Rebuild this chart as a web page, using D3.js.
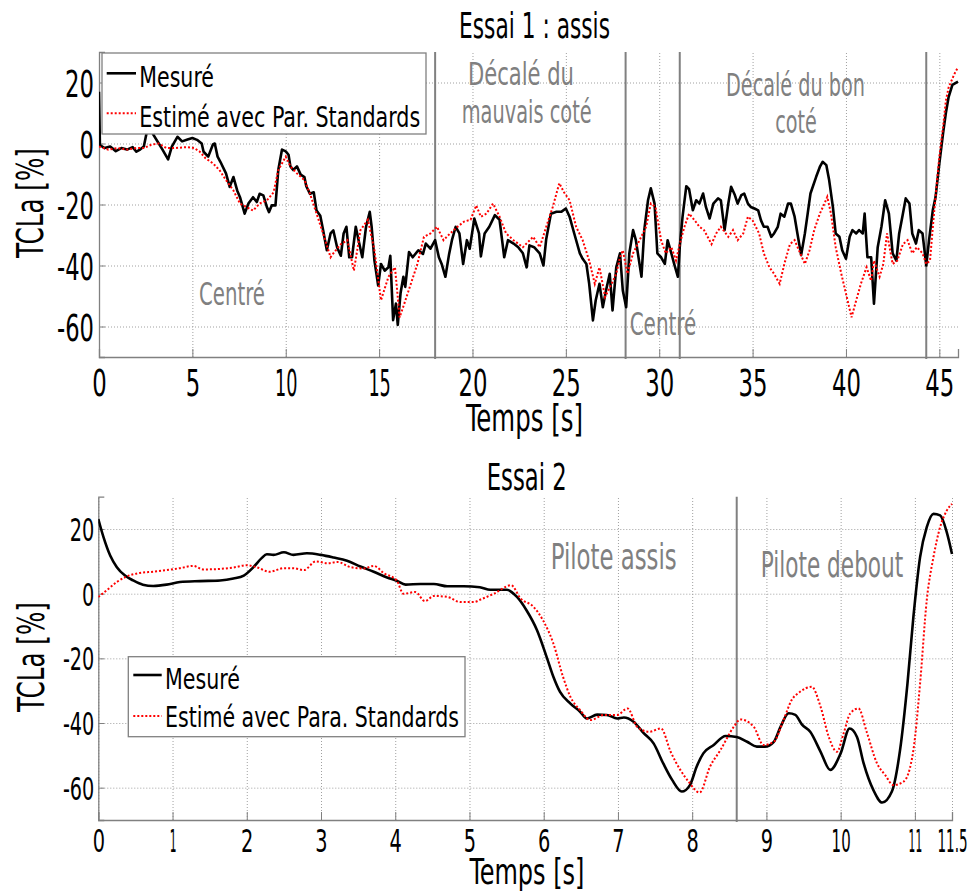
<!DOCTYPE html>
<html><head><meta charset="utf-8">
<script src="https://cdn.jsdelivr.net/npm/d3@7"></script>
<style>body{margin:0;background:#fff}svg{display:block}</style>
</head><body><svg id="c" width="968" height="892"></svg>
<script>
// ---------------- DATA ----------------
const essai1MesureT = [0,0.05,0.3,0.6,0.9,1.2,1.5,1.8,2.0,2.2,2.4,2.6,2.75,2.9,3.2,3.4,3.7,3.9,4.2,4.45,4.7,5.0,5.25,5.5,5.6,5.85,6.1,6.2,6.35,6.5,6.8,7.0,7.2,7.4,7.55,7.8,8.0,8.25,8.45,8.6,8.8,9.0,9.1,9.25,9.45,9.6,9.8,10.0,10.15,10.25,10.4,10.6,10.8,11.0,11.1,11.3,11.5,11.65,11.85,12.0,12.2,12.4,12.55,12.75,12.95,13.1,13.25,13.4,13.55,13.75,13.9,14.1,14.3,14.5,14.6,14.75,14.95,15.1,15.3,15.5,15.6,15.75,15.9,16.0,16.15,16.3,16.4,16.6,16.8,17.1,17.35,17.5,17.75,18.0,18.2,18.35,18.55,18.75,18.9,19.1,19.3,19.5,19.7,19.85,20.1,20.35,20.45,20.65,20.9,21.2,21.45,21.7,21.9,22.2,22.45,22.7,22.9,23.05,23.3,23.6,23.8,23.95,24.2,24.5,24.75,25.0,25.2,25.45,25.75,25.9,26.1,26.25,26.45,26.6,26.8,26.98,27.15,27.35,27.5,27.7,27.9,28.05,28.23,28.4,28.6,28.75,29.05,29.2,29.4,29.55,29.75,29.9,30.1,30.3,30.45,30.65,30.8,31.0,31.1,31.25,31.45,31.6,31.8,31.98,32.15,32.35,32.5,32.7,32.9,33.15,33.3,33.5,33.7,33.85,34.05,34.2,34.4,34.55,34.75,34.9,35.1,35.3,35.45,35.6,35.8,36.0,36.15,36.35,36.5,36.7,36.9,37.05,37.25,37.4,37.6,37.8,37.95,38.1,38.4,38.6,38.75,38.95,39.1,39.3,39.45,39.65,39.8,40.0,40.2,40.35,40.55,40.7,40.9,41.0,41.15,41.35,41.5,41.7,41.9,42.1,42.3,42.5,42.7,42.85,43.05,43.2,43.4,43.55,43.75,43.9,44.1,44.3,44.45,44.65,44.8,45.0,45.2,45.35,45.5,45.7,46.0];
const essai1Mesure = [17,-0.5,-1.5,-1,-2.5,-1.5,-2,-1.2,-2.7,-2,-1,5,6,3,0,-2,-5.2,-1,2.2,0.7,1.2,1.8,1.2,0,-2.7,-4.3,-0.3,0,-4.3,-6,-9.8,-14.2,-11,-15.4,-17.6,-23,-19.7,-17.6,-19.2,-16.5,-17,-21,-22.5,-20.3,-20.3,-8.7,-2,-2.6,-3.7,-7.5,-8.7,-7.5,-10.2,-11,-14,-16.5,-16,-22,-23.7,-28.4,-35,-29.5,-28.5,-34,-36.8,-29.5,-27.3,-37.3,-37.3,-27.3,-31.7,-37.3,-27.3,-22.4,-27.3,-38.4,-46.6,-39.5,-41.7,-40.6,-36.8,-57.9,-52.5,-59.5,-49,-43.7,-47,-35.6,-37.3,-35,-36.2,-32.8,-34.5,-31.7,-37.3,-39.5,-43.7,-36.2,-31.7,-27.3,-29.5,-39.5,-31.7,-34.5,-24.6,-29.5,-37,-29.5,-27.3,-23.5,-25,-37.3,-31.7,-32.8,-34,-36,-40.6,-33.4,-34,-36,-40,-31.3,-23,-22.4,-22.4,-21.3,-24,-29.5,-36,-37.8,-39.5,-46,-58,-51.4,-46,-53.7,-48.2,-42.7,-54.7,-40.6,-36,-48.2,-53.7,-36,-28.4,-31.7,-43.7,-28.4,-18.6,-14.7,-19.7,-36,-37.3,-39.5,-31.7,-36,-39.5,-43.7,-34,-24,-14,-15,-21.9,-18.6,-19.7,-16.4,-20.8,-24.6,-19.7,-18,-18.6,-28.4,-19.7,-14.2,-16.9,-19.7,-16.9,-16.4,-19.7,-20.8,-21.3,-21.9,-25.2,-27.3,-27.3,-30.6,-29.5,-27.3,-23,-24,-19.7,-19.7,-24,-29.5,-36.6,-29.5,-23,-16.4,-11,-7.7,-6,-7.1,-12,-20.8,-29.5,-30.6,-35,-37.8,-30.6,-28.4,-29.5,-28.4,-29.5,-23,-37.3,-37.3,-52.5,-34,-27.3,-18.6,-23,-36,-38.4,-29.5,-23,-18,-19.7,-29.5,-32.8,-28.4,-29.5,-40,-31.7,-21.9,-17.5,-6.6,3.3,10,15.3,19.2,20.3];

const essai1EstimeT = [0,0.5,1.0,1.5,2.0,2.4,2.8,3.2,3.6,4.0,4.7,5.1,5.4,5.7,6.1,6.45,6.8,7.2,7.55,7.9,8.25,8.6,9.0,9.35,9.6,10.0,10.25,10.6,11.0,11.3,11.65,12.0,12.4,12.55,12.95,13.3,13.65,14.0,14.4,14.75,15.1,15.5,15.85,16.1,16.35,16.7,17.05,17.4,17.75,18.1,18.45,18.8,19.2,19.55,19.9,20.2,20.45,20.75,21.1,21.45,21.8,22.2,22.7,23.25,23.6,23.95,24.3,24.65,24.9,25.2,25.55,25.9,26.25,26.55,26.8,27.1,27.45,27.7,27.9,28.05,28.3,28.6,28.95,29.3,29.55,29.8,30.1,30.35,30.65,30.9,31.1,31.35,31.6,31.9,32.15,32.4,32.8,33.05,33.3,33.7,33.95,34.2,34.5,34.75,35.0,35.35,35.6,35.9,36.15,36.45,36.7,37.0,37.25,37.55,37.8,38.05,38.3,38.6,38.85,39.0,39.2,39.45,39.75,40.0,40.3,40.55,40.8,41.1,41.35,41.5,41.8,42.0,42.2,42.5,42.75,43.05,43.3,43.55,43.8,44.1,44.3,44.5,44.7,45.0,45.2,45.35,45.5,45.8,46.0];
const essai1Estime = [-1,-2,-1.5,-2,-1.5,-1.5,-0.4,0,-1.5,-1.5,-1.2,-1.5,-2.7,-4.8,-6.5,-8.7,-12,-15.4,-19.7,-20.8,-22,-19.7,-18.6,-16,-8.7,-4.3,-7.5,-9.8,-12,-16.5,-23,-29.5,-37.3,-36,-33,-31.7,-41.7,-28.4,-25,-35,-51.4,-43.7,-40.6,-57,-52.5,-46,-39.5,-30.6,-29.5,-27.3,-31.7,-29.5,-27.3,-25.6,-25,-20.3,-24,-23,-19.7,-24,-29.5,-31.7,-34,-30.6,-34,-27.3,-20.8,-13,-16,-18.6,-27.3,-31.7,-38.4,-46,-40.6,-50.3,-46,-42.7,-37.3,-35,-42.7,-36,-31.7,-27.3,-19.7,-20.8,-31.7,-36,-34,-38.4,-33,-27.3,-23,-25.2,-27.3,-28.4,-33,-29.5,-27.3,-30.6,-28.4,-31.7,-29.5,-24,-25.2,-29.5,-36,-40.6,-42.7,-46,-39.5,-33,-31.7,-36,-39.5,-35,-28.4,-23,-19.7,-17.5,-23,-34,-42.7,-49.2,-57,-51.4,-46,-40.6,-45,-38.4,-43.7,-39.5,-29.5,-39.5,-38.4,-33,-31.7,-36,-34,-36,-39.5,-38.4,-24,-4.3,5.4,14,18.4,22.7,25];

const essai2MesureT = [0,0.07,0.16,0.25,0.36,0.47,0.6,0.74,0.92,1.1,1.37,1.64,1.82,1.96,2.09,2.2,2.27,2.36,2.5,2.63,2.81,3.0,3.17,3.35,3.53,3.71,3.89,4.02,4.14,4.34,4.52,4.7,4.92,5.14,5.28,5.5,5.64,5.77,5.91,6.04,6.13,6.22,6.36,6.49,6.58,6.72,6.85,6.99,7.08,7.21,7.35,7.48,7.61,7.73,7.86,7.97,8.06,8.15,8.29,8.45,8.6,8.74,8.87,8.98,9.1,9.19,9.3,9.39,9.48,9.59,9.73,9.86,10.0,10.12,10.22,10.31,10.44,10.56,10.69,10.8,10.9,10.98,11.07,11.16,11.25,11.34,11.43,11.5];
const essai2Mesure = [23.1,17.5,11.8,8.2,5.6,4.1,2.8,2.4,2.8,3.6,3.9,4.1,4.7,5.6,8.2,11,12.2,12,12.8,12,12.5,12,11.2,10.2,8.4,6.8,5,4,2.8,3,3,2.3,2.3,2.0,1.2,1.2,-1,-5.2,-11.3,-19.6,-25.7,-30.4,-34,-36.5,-38.6,-37.4,-37.5,-38.6,-38.3,-39.6,-43.2,-46.3,-52.5,-57.6,-61.2,-59.2,-53.5,-49.4,-46.8,-44.0,-44.3,-45.8,-47.3,-47.3,-45.8,-41.2,-37,-37.5,-40.5,-42.7,-48.9,-54.5,-49.4,-41.7,-44.3,-52.5,-60.7,-64.6,-61.2,-48.4,-27.8,-7.2,11.3,20.6,24.7,24.2,19,12.3];

const essai2EstimeT = [0,0.11,0.25,0.38,0.56,0.74,0.92,1.1,1.28,1.41,1.59,1.82,2.0,2.13,2.31,2.5,2.63,2.77,2.93,3.09,3.22,3.4,3.58,3.71,3.85,4.02,4.11,4.27,4.4,4.52,4.7,4.88,5.06,5.15,5.33,5.56,5.69,5.86,5.99,6.13,6.26,6.36,6.49,6.63,6.81,6.99,7.13,7.26,7.42,7.58,7.71,7.84,7.95,8.1,8.24,8.38,8.56,8.65,8.83,8.96,9.1,9.23,9.34,9.45,9.61,9.73,9.84,9.95,10.04,10.13,10.24,10.35,10.49,10.6,10.71,10.85,10.98,11.07,11.16,11.25,11.34,11.43,11.5];
const essai2Estime = [-1,1,3.6,5.3,6.4,6.8,7.3,7.9,8.6,7.5,7.6,8.1,8.8,8.2,6.8,7.9,7.9,7.3,10,9.4,9.8,8.2,7.8,8.6,6.3,4.1,0,0.5,-2.3,-0.7,-1,-2.6,-2.6,-1.8,0,2.6,-1.5,-4,-8.2,-15.4,-25.7,-31.9,-36,-39.1,-37.5,-37.5,-35.5,-41.2,-42.7,-41.7,-48.9,-54.5,-58.1,-61.5,-53.5,-48.4,-41.2,-38.9,-41.2,-46.8,-45.8,-39.1,-32.9,-30.4,-28.8,-35,-44.3,-48.9,-43.2,-37,-35.5,-42.7,-52.5,-56.1,-59.2,-58.1,-48.4,-27.8,-2,11.3,20.6,25.7,27.8];

const essai1XTicks = [0,5,10,15,20,25,30,35,40,45];
const essai2XTicks = [0,1,2,3,4,5,6,7,8,9,10,11,11.5];
const yTicks = [-60,-40,-20,0,20];
const essai1Regions = [18,28.2,31.1,44.3];
const essai2Regions = [8.6];
const legendLabels1 = ["Mesuré","Estimé avec Par. Standards"];
const legendLabels2 = ["Mesuré","Estimé avec Para. Standards"];

// ---------------- DRAWING ----------------
const FONT = "'Liberation Sans Narrow','DejaVu Sans Condensed','Arial Narrow',sans-serif";
const svg = d3.select('#c');
// relative glyph widths of the narrow tick font (digit = 1)
const CHAR_W = { '1': 0.55, '.': 0.35, '-': 0.55 };
const tickWidth = (s, dw) => Array.from(s).reduce((a, ch) => a + (CHAR_W[ch] ?? 1), 0) * dw;

function label(g, str, o) {
  const t = g.append('text').text(str)
    .attr('font-family', FONT).attr('font-size', o.size)
    .attr('fill', o.color || '#000')
    .attr('text-anchor', o.anchor || 'middle');
  const L = t.node().getComputedTextLength();
  const k = o.width / L;
  t.attr('transform', `translate(${o.x},${o.y})${o.rotate ? ` rotate(${o.rotate})` : ''} scale(${k},1)`);
  return t;
}

function panel(c) {
  const x = d3.scaleLinear().domain(c.xDomain).range([c.left, c.right]);
  const y = d3.scaleLinear().domain([-70, 30]).range([c.bottom, c.top]);
  const g = svg.append('g');
  const H = c.bottom - c.top, W = c.right - c.left;

  // grid
  g.append('g').attr('transform', `translate(0,${c.bottom})`)
    .call(d3.axisBottom(x).tickValues(c.xTicks).tickSize(-H).tickFormat(''))
    .call(a => { a.select('.domain').remove(); a.selectAll('line').attr('stroke', '#a0a0a0').attr('stroke-dasharray', '1,2'); });
  g.append('g').attr('transform', `translate(${c.left},0)`)
    .call(d3.axisLeft(y).tickValues(yTicks).tickSize(-W).tickFormat(''))
    .call(a => { a.select('.domain').remove(); a.selectAll('line').attr('stroke', '#a0a0a0').attr('stroke-dasharray', '1,2'); });

  // axes with inner ticks and labels
  const xa = g.append('g').attr('transform', `translate(0,${c.bottom})`)
    .call(d3.axisBottom(x).tickValues(c.xTicks).tickSize(-8).tickFormat(d => String(d)));
  xa.attr('font-family', FONT).attr('font-size', c.tickFont);
  xa.select('.domain').attr('stroke', '#808080').attr('stroke-width', 1.3);
  xa.selectAll('line').attr('stroke', '#808080');
  xa.selectAll('text').attr('y', c.xLabOff).attr('dy', 0).attr('fill', '#000')
    .each(function () {
      const k = tickWidth(this.textContent, c.digitW) / this.getComputedTextLength();
      d3.select(this).attr('transform', `scale(${k},1)`);
    });

  const ya = g.append('g').attr('transform', `translate(${c.left},0)`)
    .call(d3.axisLeft(y).tickValues(yTicks).tickSize(-6).tickFormat(d => String(d)));
  ya.attr('font-family', FONT).attr('font-size', c.tickFont);
  ya.select('.domain').attr('stroke', '#808080').attr('stroke-width', 1.3);
  ya.selectAll('line').attr('stroke', '#808080');
  ya.selectAll('text').attr('dy', '0.36em').attr('fill', '#000')
    .each(function () {
      const k = tickWidth(this.textContent, c.digitW) / this.getComputedTextLength();
      d3.select(this).attr('x', -c.yLabGap / k).attr('transform', `scale(${k},1)`);
    });

  // region separators
  g.append('g').selectAll('line').data(c.regions).join('line')
    .attr('x1', d => x(d)).attr('x2', d => x(d))
    .attr('y1', c.top).attr('y2', c.bottom + 2)
    .attr('stroke', '#808080').attr('stroke-width', 2);

  // data
  const clipId = 'clip' + c.id;
  svg.append('clipPath').attr('id', clipId).append('rect')
    .attr('x', c.left).attr('y', c.top - 2).attr('width', W + 2).attr('height', H + 2);
  const line = d3.line().x(d => x(d[0])).y(d => y(d[1])).curve(c.curve);
  const dg = g.append('g').attr('clip-path', `url(#${clipId})`);
  dg.append('path').datum(d3.zip(c.mesT, c.mesV)).attr('d', line)
    .attr('fill', 'none').attr('stroke', '#000').attr('stroke-width', 2.6).attr('stroke-linejoin', 'round');
  dg.append('path').datum(d3.zip(c.estT, c.estV)).attr('d', line)
    .attr('fill', 'none').attr('stroke', '#ff0000').attr('stroke-width', 2).attr('stroke-dasharray', '2,2');

  // annotations
  c.notes.forEach(n => label(g, n.t, { x: n.x, y: n.y, size: n.size, width: n.w, color: '#808080' }));

  // title + axis labels
  label(g, c.title, c.titlePos);
  label(g, 'Temps [s]', c.xlabPos);
  label(g, 'TCLa [%]', Object.assign({ rotate: -90 }, c.ylabPos));

  // legend
  const lg = c.leg;
  g.append('rect').attr('x', lg.x0).attr('y', lg.y0).attr('width', lg.x1 - lg.x0).attr('height', lg.y1 - lg.y0)
    .attr('fill', '#fff').attr('stroke', '#808080').attr('stroke-width', 1.3);
  g.append('line').attr('x1', lg.lx0).attr('x2', lg.lx1).attr('y1', lg.ly[0]).attr('y2', lg.ly[0])
    .attr('stroke', '#000').attr('stroke-width', 2.6);
  g.append('line').attr('x1', lg.lx0).attr('x2', lg.lx1).attr('y1', lg.ly[1]).attr('y2', lg.ly[1])
    .attr('stroke', '#ff0000').attr('stroke-width', 2).attr('stroke-dasharray', '2,2');
  c.legLabels.forEach((s, i) => label(g, s, { x: lg.tx, y: lg.ty[i], size: 29, width: lg.tw[i], anchor: 'start' }));
}

panel({
  id: 1, xDomain: [0, 46], left: 99, right: 958, top: 52, bottom: 357,
  xTicks: essai1XTicks, tickFont: 38, digitW: 14.5, xLabOff: 39, yLabGap: 5,
  regions: essai1Regions, curve: d3.curveLinear,
  mesT: essai1MesureT, mesV: essai1Mesure, estT: essai1EstimeT, estV: essai1Estime,
  notes: [
    { t: 'Centré', x: 232, y: 305, size: 32, w: 66 },
    { t: 'Décalé du', x: 521, y: 85, size: 32, w: 106 },
    { t: 'mauvais coté', x: 526.7, y: 123.3, size: 32, w: 130 },
    { t: 'Décalé du bon', x: 795.5, y: 95.7, size: 32, w: 139 },
    { t: 'coté', x: 796, y: 133.3, size: 32, w: 41.7 },
    { t: 'Centré', x: 663, y: 335, size: 32, w: 66.7 }
  ],
  title: 'Essai 1 : assis', titlePos: { x: 534.5, y: 38, size: 36, width: 151 },
  xlabPos: { x: 524.5, y: 431, size: 38, width: 117 },
  ylabPos: { x: 43, y: 203, size: 38, width: 110 },
  leg: { x0: 102, y0: 53, x1: 426, y1: 134, lx0: 106.7, lx1: 136, ly: [73.3, 113.3], tx: 139.3, ty: [86.7, 126.7], tw: [74.7, 281] },
  legLabels: legendLabels1
});

panel({
  id: 2, xDomain: [0, 11.5], left: 98.3, right: 952, top: 496.7, bottom: 820,
  xTicks: essai2XTicks, tickFont: 32, digitW: 12.3, xLabOff: 32, yLabGap: 4,
  regions: essai2Regions, curve: d3.curveMonotoneX,
  mesT: essai2MesureT, mesV: essai2Mesure, estT: essai2EstimeT, estV: essai2Estime,
  notes: [
    { t: 'Pilote assis', x: 613.7, y: 569.3, size: 36, w: 126 },
    { t: 'Pilote debout', x: 832, y: 576.7, size: 36, w: 142.6 }
  ],
  title: 'Essai 2', titlePos: { x: 526.7, y: 490, size: 38, width: 80 },
  xlabPos: { x: 527, y: 884, size: 36, width: 115 },
  ylabPos: { x: 44, y: 657, size: 38, width: 110 },
  leg: { x0: 128.3, y0: 656.7, x1: 465, y1: 736.7, lx0: 133.3, lx1: 161.7, ly: [675, 716], tx: 165, ty: [689.3, 727.3], tw: [75, 294] },
  legLabels: legendLabels2
});
</script>
</body></html>
